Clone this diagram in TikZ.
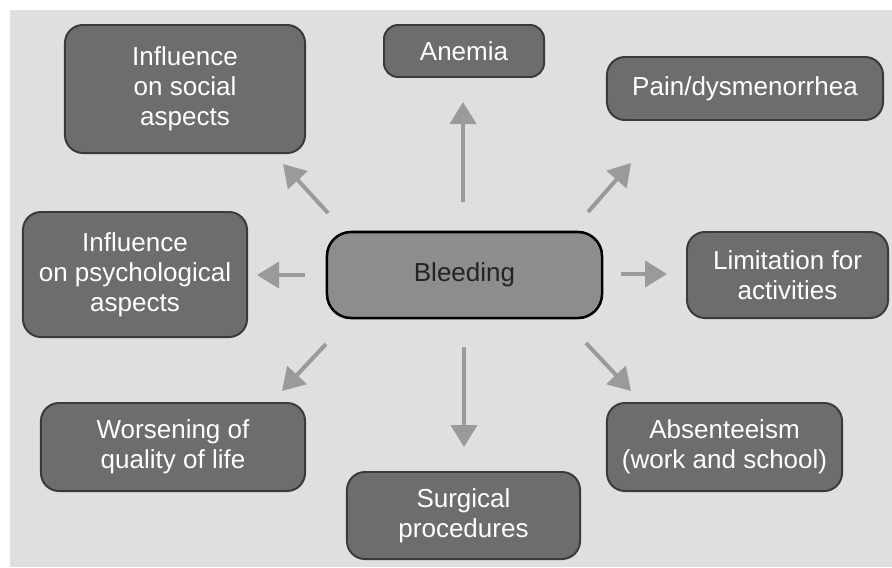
\documentclass[tikz,border=0pt]{standalone}
\usepackage{fontspec}
\setmainfont{Liberation Sans}
\usepackage{tikz}
\usetikzlibrary{arrows.meta}
\definecolor{bgpanel}{HTML}{DFDFDF}
\definecolor{boxfill}{HTML}{6D6D6D}
\definecolor{boxedge}{HTML}{3A3A3A}
\definecolor{hubfill}{HTML}{8D8D8D}
\definecolor{hubink}{HTML}{232323}
\definecolor{flowgray}{HTML}{9A9A9A}

\begin{document}
\begin{tikzpicture}[x=0.025cm,y=-0.025cm,line join=round,
  font=\fontsize{18.5}{21.5}\selectfont,
  effect/.style={rectangle,rounded corners=0.45cm,fill=boxfill,draw=boxedge,
    line width=1.4pt,text=white,align=center,inner sep=2pt},
  hub/.style={effect,rounded corners=0.6cm,fill=hubfill,draw=black,line width=1.8pt,text=hubink},
  flow/.style={draw=flowgray,line width=0.1cm,
    -{Triangle[length=0.55cm,width=0.65cm]}}]
\path[use as bounding box] (0,0) rectangle (892,567);
\fill[white] (0,0) rectangle (892,567);
\fill[bgpanel] (10,10) rectangle (892,567);

% centre
\node[hub,minimum width=6.875cm,minimum height=2.15cm] (bleed) at (464.5,275) {Bleeding};

% consequences
\node[effect,minimum width=6.0cm,minimum height=3.2cm] (social) at (185,89)
  {Influence\\on social\\aspects};
\node[effect,minimum width=4.0cm,minimum height=1.3cm,rounded corners=0.35cm] (anemia) at (464,51)
  {Anemia};
\node[effect,minimum width=6.9cm,minimum height=1.575cm] (pain) at (745,88.5)
  {Pain/dysmenorrhea};
\node[effect,minimum width=5.6cm,minimum height=3.125cm] (psych) at (135,274.5)
  {Influence\\on psychological\\aspects};
\node[effect,minimum width=5.025cm,minimum height=2.15cm] (limit) at (787.5,275)
  {Limitation for\\activities};
\node[effect,minimum width=6.6cm,minimum height=2.2cm] (worse) at (173,447)
  {Worsening of\\quality of life};
\node[effect,minimum width=5.825cm,minimum height=2.175cm] (surg) at (463.5,515.5)
  {Surgical\\procedures};
\node[effect,minimum width=5.875cm,minimum height=2.2cm] (absent) at (724.5,447)
  {Absenteeism\\(work and school)};

% arrows out of the centre
\foreach \n/\a/\b in {up/{463,202}/{463,102},ne/{588,212}/{631,163},
  rt/{621,274}/{667,274},se/{586,343}/{631,391},dn/{464,347}/{464,447},
  sw/{326,344}/{282,391},lt/{305,275}/{257,275},nw/{328,213}/{283,164}} {
  \coordinate (\n0) at (\a);
  \coordinate (\n1) at (\b);
  \draw[flow] (\n0)--(\n1);
}
\end{tikzpicture}
\end{document}
